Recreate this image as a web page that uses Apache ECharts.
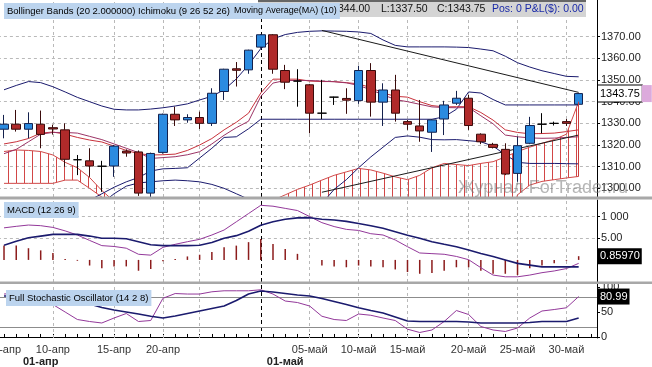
<!DOCTYPE html>
<html><head><meta charset="utf-8">
<script src="https://cdn.jsdelivr.net/npm/echarts@6/dist/echarts.min.js"></script>
<style>html,body{margin:0;padding:0;background:#fff}#c{width:652px;height:367px}</style>
</head><body><div id="c"></div>
<script>
// ---------- data ----------
const categories = ['05-апр','06-апр','07-апр','08-апр','10-апр','11-апр','12-апр','13-апр','14-апр','15-апр','17-апр','18-апр','19-апр','20-апр','21-апр','24-апр','25-апр','26-апр','27-апр','28-апр','29-апр','01-май','02-май','03-май','04-май','05-май','06-май','08-май','09-май','10-май','11-май','12-май','13-май','15-май','16-май','17-май','18-май','19-май','20-май','22-май','23-май','24-май','25-май','26-май','27-май','29-май','30-май','31-май',''];
const labelIdx = [0,4,9,13,25,29,33,38,42,46];
const gridIdx = [4,9,13,16,25,29,33,38,42,46];
const monthSepLabel = '01-май';
const monthLabelIdx = [3,23];
const monthLabels = ['01-апр','01-май'];

const opens  = [1327.3,1329.6,1327.3,1329.6,1328.0,1327.0,1313.2,1312.7,1310.2,1310.3,1317.2,1316.8,1297.8,1316.6,1334.2,1331.6,1332.7,1330.0,1344.7,1355.2,1354.7,1365.2,1370.9,1354.4,1349.5,1347.8,1334.7,1342.1,1341.5,1340.5,1354.4,1339.8,1345.4,1330.8,1328.8,1325.9,1332.0,1339.3,1341.6,1325.0,1320.3,1318.0,1306.9,1320.8,1329.6,1330.0,1330.8,1338.8];
const closes = [1329.6,1327.3,1329.9,1324.9,1327.4,1313.4,1313.2,1310.3,1310.2,1319.5,1316.3,1297.8,1316.1,1334.2,1331.6,1332.7,1330.0,1343.9,1355.0,1354.5,1363.8,1370.9,1355.0,1349.0,1349.5,1334.7,1334.7,1342.1,1340.7,1354.4,1339.8,1345.4,1334.7,1329.6,1326.5,1331.6,1338.5,1341.6,1329.0,1321.5,1318.9,1306.6,1319.7,1329.0,1329.6,1330.0,1330.0,1343.75];
const lows   = [1323.1,1326.2,1323.1,1318.5,1324.8,1310.0,1306.1,1305.3,1298.4,1305.3,1314.6,1296.5,1295.0,1316.0,1328.8,1330.3,1327.4,1328.8,1340.8,1347.0,1352.9,1364.5,1352.9,1345.8,1337.7,1325.4,1331.9,1338.5,1334.4,1339.0,1333.1,1328.8,1330.8,1327.0,1321.5,1316.8,1324.6,1338.5,1327.0,1320.4,1318.4,1306.1,1303.0,1320.4,1325.4,1329.0,1328.8,1337.5];
const highs  = [1333.9,1336.2,1335.1,1335.9,1329.4,1330.0,1315.4,1318.5,1312.7,1320.0,1318.0,1317.5,1316.5,1334.5,1337.7,1334.2,1335.4,1346.2,1355.2,1358.3,1364.0,1371.2,1371.2,1357.0,1355.0,1348.2,1350.1,1342.3,1346.2,1356.6,1357.8,1348.5,1352.4,1331.6,1340.8,1331.9,1340.4,1345.0,1343.1,1325.4,1321.0,1320.8,1323.9,1333.0,1334.7,1330.8,1332.0,1344.0];

const bbUpper = [1345.5,1347.5,1349.3,1348.8,1346.9,1344.5,1342,1340,1338,1336.5,1336.2,1336.2,1336.6,1337.2,1338,1339,1340.8,1342.5,1345.5,1350.5,1357,1364.5,1369,1371,1372,1372.5,1372.7,1372.6,1372.5,1372.2,1371.5,1368.5,1366,1365.3,1365.3,1365.3,1365.3,1365.2,1365,1364.3,1363.5,1361,1358,1356,1354.3,1353,1351.7,1351.5];
const bbLower = [1280,1280,1280,1281,1283,1285,1287,1289,1293,1297.5,1301,1302.5,1303,1303.5,1303.8,1303.5,1303,1301.8,1300,1297.5,1295,1292,1289,1287,1286,1288,1293,1299.5,1304,1309.5,1314.5,1319,1323.5,1324.2,1323.6,1322.5,1322.4,1322.5,1322,1321.5,1319.5,1315.5,1312,1311.5,1311.5,1311.5,1311.4,1311.3];
const kijun = [1285,1286,1287,1288,1289,1290,1292,1294.5,1297.5,1300.5,1303,1305,1308,1309,1309.2,1309.5,1314,1318.5,1323.5,1323.8,1327.5,1331.9,1331.9,1331.9,1331.9,1331.9,1331.9,1331.9,1331.9,1331.9,1331.9,1331.9,1331.9,1331.9,1331.9,1331.9,1333,1336.5,1344.5,1344,1341,1338.5,1338.5,1338.5,1338.5,1338.5,1338.5,1338.5];
const tenkan = [1320.5,1321.5,1323,1325.5,1326,1325,1323.5,1322.3,1321.4,1319.5,1317.5,1316,1315.4,1315.5,1315.8,1317.5,1320,1323,1327,1330.5,1334.7,1344,1350.4,1350.4,1350.4,1349.5,1349.3,1349.3,1348.8,1348.2,1346.5,1344,1342.5,1342.1,1340,1338.2,1337.6,1337.7,1337.7,1335,1331.5,1327,1325.8,1325.2,1325.3,1325.5,1326.2,1327];
const ma10 = [1316,1318,1321.5,1325,1325.8,1325.8,1325.5,1324,1322.5,1320.5,1318.5,1316.5,1313.8,1314.2,1314.6,1315.5,1316.9,1320.5,1324.5,1328,1331,1342.4,1348.6,1349.8,1349.8,1349.8,1349.5,1349.2,1348.7,1347.5,1345.5,1343.2,1341,1340,1338.8,1337.6,1337.3,1337.2,1337.3,1333.5,1329.8,1324.6,1323.8,1323.3,1323.1,1323.2,1323.5,1323.8];
const cloudTop = [1317,1317.7,1317.5,1317,1315.4,1312,1309.5,1305,1299,1294,1290,1288,1287,1286,1285,1285,1285,1286,1287,1288,1290,1292,1294.5,1297,1299.5,1301.5,1303.8,1306,1307.6,1309.2,1308.5,1307,1305.3,1304,1306,1309.5,1311.5,1311,1310.5,1311.5,1312.3,1314.5,1317,1319,1320.8,1322.5,1325,1340];
const cloudBottom = [1302.3,1302.3,1302.3,1302.3,1302.3,1303.8,1303.8,1300,1296,1292,1280,1280,1280,1280,1280,1280,1280,1280,1280,1280,1280,1280,1280,1280,1280,1280,1280,1280,1280,1280,1280,1280,1280,1280,1280,1280,1280,1280,1280,1280,1280,1280,1297,1301.5,1303.2,1304,1304.8,1305.5];
const trendDown = [['06-май',1372.9],['31-май',1344.3]];
const trendUp = [['06-май',1298.2],['31-май',1324.6]];

const macdLine = [7.4,7.75,8.05,7.9,7.5,6.7,5.75,4.5,3.3,3.1,2.7,1.3,1.1,2.9,3.6,4.2,4.75,5.75,6.9,8.8,10.7,12.6,12.4,11.9,11.4,10.0,8.6,7.7,7.05,6.8,6.05,5.75,4.6,3.05,1.6,1.45,1.3,0.8,0.05,-1.8,-3.5,-3.9,-3.9,-3.5,-2.95,-2.55,-2.0,-0.8];
const signalLine = [3.4,4.3,5.1,5.5,5.9,5.9,5.9,5.5,5.0,5.0,4.9,4.2,3.5,3.3,3.3,3.3,3.4,4.0,5.0,5.6,6.6,8.0,8.8,9.4,9.7,9.75,9.4,9.2,8.9,8.4,7.9,7.3,6.5,5.7,5.0,4.2,3.6,3.05,2.3,1.5,0.8,0.0,-0.8,-1.2,-1.6,-1.6,-1.6,-1.6];
const macdHist = [3.3,3.3,2.7,2.2,1.6,0.2,-0.2,-1.3,-1.9,-1.5,-1.5,-2.5,-2.1,-0.3,0.2,0.8,1.2,1.8,2.9,3.3,4.1,4.8,3.7,2.5,1.4,0.0,-1.3,-1.5,-1.7,-1.3,-1.5,-1.7,-2.2,-2.8,-3.2,-3.0,-2.5,-1.7,-1.7,-2.5,-3.2,-3.2,-3.5,-1.9,-1.3,-0.8,-0.2,0.8597];
const stochK = [86,88,88,82,65,50,35,31,28,38,47,31,33,77.5,87,86,86,90.5,92.5,92.5,92.5,94.5,86,72,69,62,41.5,35,33,46,43.5,38,33,15.6,9,14,31,53,45,21,14,11,18,38,52,55,58.5,80.99];
const stochD = [82,82,82,81,80,78,73,66,59,54,50,46,41.5,38,42,47,52,57,62,73,86,92,90,87,84,82,77,71,65,58.5,53,48,40,32,31,31,31,31,30,28,28,28,28,29,31,31,31,38];

const priceTicks = [1300,1310,1320,1330,1340,1350,1360,1370];
const macdTicks = [5,10];
const macdTickText = {5:'5.00',10:'1 000'};
const stochTicks = [0,50,100];
const stochLevels = [80,20];

// ---------- build ----------
const chart = echarts.init(document.getElementById('c'), null, {renderer:'canvas'});
const FONT = '"Liberation Sans", Arial, sans-serif';
const NAVY = '#1b1b6e';
const HIDDEN = 'rgba(0,0,0,0)';
const candleData = opens.map((o,i)=>[o, closes[i], lows[i], highs[i]]);
const cloudDiff = cloudTop.map((t,i)=>t - cloudBottom[i]);
const last = closes.length - 1;

const pat = document.createElement('canvas');
pat.width = 8; pat.height = 4;
const pctx = pat.getContext('2d');
pctx.fillStyle = 'rgba(205,50,50,0.9)';
pctx.fillRect(0,0,1,4);

const gridLineStyle = {color:'#b9b9b9', type:[3,3], width:1};
const vLines = gridIdx.map(i=>({xAxis: categories[i], lineStyle: gridLineStyle}));
vLines.push({xAxis: monthSepLabel, lineStyle:{color:'#000', type:[4,3], width:1}});
const mk = (extra) => ({symbol:['none','none'], silent:true, animation:false, z:1, label:{show:false}, data: vLines.concat(extra||[])});

const hiddenX = (gi) => ({type:'category', gridIndex:gi, data:categories, boundaryGap:true,
  axisLine:{show:false}, axisTick:{show:false}, axisLabel:{show:false}, splitLine:{show:false}});

const ln = (data, color, width, xi, z) => ({type:'line', data, xAxisIndex:xi, yAxisIndex:xi,
  symbol:'none', showSymbol:false, lineStyle:{color, width}, itemStyle:{color}, z:z||2, silent:true, animation:false});

const valueBox = (val, txt) => ({yAxis: val, lineStyle:{color:HIDDEN, width:1, type:'solid'},
  label:{show:true, position:'end', distance:1, formatter: txt, backgroundColor:'#000', color:'#fff',
    padding:[3,2,2,2], fontSize:11, fontFamily:FONT}});

const gridBase = {left:-2.1, right:55, containLabel:false, outerBoundsMode:'none'};

const option = {
  animation:false,
  backgroundColor:'#fff',
  textStyle:{fontFamily:FONT},
  grid:[
    Object.assign({top:0, height:197}, gridBase),
    Object.assign({top:200, height:82}, gridBase),
    Object.assign({top:284, height:54}, gridBase)
  ],
  xAxis:[
    hiddenX(0), hiddenX(1),
    {type:'category', gridIndex:2, data:categories, boundaryGap:true,
     axisLine:{show:true, lineStyle:{color:'#000', width:1}},
     axisTick:{show:true, alignWithLabel:true, interval:0, inside:true, length:3, lineStyle:{color:'#000'}},
     axisLabel:{show:true, interval:(i)=>labelIdx.includes(i), align:'center',
       fontSize:11, color:'#333', margin:6},
     splitLine:{show:false}},
    {type:'category', gridIndex:2, data:categories, boundaryGap:true, position:'bottom', offset:12,
     axisLine:{show:false}, axisTick:{show:false}, splitLine:{show:false},
     axisLabel:{show:true, interval:(i)=>monthLabelIdx.includes(i), align:'center',
       formatter:(v,i)=>{const k=monthLabelIdx.indexOf(i); return k>=0?monthLabels[k]:'';},
       fontSize:11, fontWeight:'bold', color:'#222', margin:6}}
  ],
  yAxis:[
    {type:'value', gridIndex:0, position:'right', min:1296.0, max:1386.95,
     axisLine:{show:true, lineStyle:{color:'#000'}},
     axisTick:{show:true, length:3, customValues:priceTicks, lineStyle:{color:'#000'}},
     axisLabel:{customValues:priceTicks, formatter:(v)=>v.toFixed(2), fontSize:11, color:'#222', margin:4},
     splitLine:{show:true, lineStyle:gridLineStyle}},
    {type:'value', gridIndex:1, position:'right', min:-5.1, max:13.83,
     axisLine:{show:true, lineStyle:{color:'#000'}},
     axisTick:{show:true, length:3, customValues:macdTicks, lineStyle:{color:'#000'}},
     axisLabel:{customValues:macdTicks, formatter:(v)=>macdTickText[v]||'', fontSize:11, color:'#222', margin:4},
     splitLine:{show:true, lineStyle:gridLineStyle}},
    {type:'value', gridIndex:2, position:'right', min:-2.04, max:106.1,
     axisLine:{show:true, lineStyle:{color:'#000'}},
     axisTick:{show:true, length:3, customValues:stochTicks, lineStyle:{color:'#000'}},
     axisLabel:{customValues:stochTicks, formatter:(v)=>String(v), fontSize:11, color:'#222', margin:4},
     splitLine:{show:false}}
  ],
  series:[
    {type:'line', data:cloudBottom, stack:'cloud', xAxisIndex:0, yAxisIndex:0, symbol:'none',
     lineStyle:{color:'#d04848', width:1}, z:1, silent:true, animation:false, markLine: mk()},
    {type:'line', data:cloudDiff, stack:'cloud', xAxisIndex:0, yAxisIndex:0, symbol:'none',
     lineStyle:{color:'#d04848', width:1}, areaStyle:{color:{image:pat, repeat:'repeat'}, opacity:1},
     z:1, silent:true, animation:false,
     markLine:{symbol:['none','none'], silent:true, animation:false, label:{show:false},
       lineStyle:{color:'#c83c3c', width:1, type:'solid'},
       data:[[{coord:[categories[last], cloudBottom[last]]},{coord:[categories[last], cloudTop[last]]}]]}},
    ln(bbUpper, NAVY, 1, 0),
    ln(bbLower, NAVY, 1, 0),
    ln(kijun, NAVY, 1, 0),
    ln(tenkan, '#c8323c', 1, 0),
    ln(ma10, '#9c3466', 1, 0),
    ln(trendDown, '#1a1a1a', 1, 0),
    ln(trendUp, '#1a1a1a', 1, 0),
    {type:'candlestick', xAxisIndex:0, yAxisIndex:0, data:candleData, barWidth:9, z:3, silent:true, animation:false,
     itemStyle:{color:'#2b8be0', color0:'#b02a2a', borderColor:'#14214d', borderColor0:'#3a0b0b', borderColorDoji:'#000', borderWidth:1},
     markLine:{symbol:['none','none'], silent:true, animation:false, z:10,
       data:[{yAxis:closes[last], lineStyle:{color:HIDDEN, width:1, type:'solid'},
         label:{show:true, position:'end', distance:1, formatter:'{a|'+closes[last].toFixed(2)+'}{b| }',
           rich:{a:{backgroundColor:'#fff', borderColor:'#000', borderWidth:1, padding:[3,2,2,2], fontSize:11, color:'#000', fontFamily:FONT},
                 b:{backgroundColor:'#dcaadc', width:10, height:17}}}}]}},
    {type:'bar', xAxisIndex:1, yAxisIndex:1, data:macdHist, barWidth:1.5, itemStyle:{color:'#8c1c1c'}, z:2, silent:true, animation:false,
     markLine: mk([valueBox(macdHist[last], macdHist[last].toFixed(5))])},
    ln(macdLine, '#93389a', 1, 1),
    ln(signalLine, NAVY, 1.6, 1),
    Object.assign(ln(stochK, '#93389a', 1, 2), {
      markLine: mk(stochLevels.map(v=>({yAxis:v, lineStyle:{color:'#8c8c8c', type:'solid', width:1}})).concat([valueBox(stochK[last], stochK[last].toFixed(2))]))}),
    ln(stochD, NAVY, 1.6, 2)
  ],
  graphic:[
    {type:'rect', shape:{x:0,y:196.5,width:652,height:3}, style:{fill:'#a8a8a8'}, z:90},
    {type:'rect', shape:{x:0,y:281.5,width:652,height:2.5}, style:{fill:'#a8a8a8'}, z:90},
    {type:'text', x:458, y:188, style:{text:'Журнал ForTrader.ru', font:'18px '+FONT, fill:'rgba(120,120,120,0.55)', verticalAlign:'middle'}, z:95},
    {type:'rect', shape:{x:258,y:0,width:328,height:17}, style:{fill:'#d4d4d4'}, z:100},
    {type:'rect', shape:{x:258,y:0,width:328,height:2}, style:{fill:'#666'}, z:100},
    {type:'text', x:338, y:9, style:{text:'344.00', font:'10.5px '+FONT, fill:'#111', verticalAlign:'middle'}, z:101},
    {type:'text', x:381, y:9, style:{text:'L:1337.50', font:'10.5px '+FONT, fill:'#111', verticalAlign:'middle'}, z:101},
    {type:'text', x:437, y:9, style:{text:'C:1343.75', font:'10.5px '+FONT, fill:'#111', verticalAlign:'middle'}, z:101},
    {type:'text', x:492, y:9, style:{text:'Pos: 0 P&L($): 0.00', font:'10.5px '+FONT, fill:'#1a2aa8', verticalAlign:'middle'}, z:101},
    {type:'text', x:4, y:3, style:{text:'Bollinger Bands (20 2.000000)', font:'9.5px '+FONT, fill:'#000', backgroundColor:'#bcd4ee', padding:[3,3,3,3]}, z:102},
    {type:'text', x:135, y:3, style:{text:'Ichimoku (9 26 52 26)', font:'9.5px '+FONT, fill:'#000', backgroundColor:'#bcd4ee', padding:[3,3,3,3]}, z:102},
    {type:'text', x:231, y:3, style:{text:'Moving Average(MA) (10)', font:'9px '+FONT, fill:'#000', backgroundColor:'#bcd4ee', padding:[3,3,4,3]}, z:102},
    {type:'text', x:4, y:202, style:{text:'MACD (12 26 9)', font:'9.5px '+FONT, fill:'#000', backgroundColor:'#bcd4ee', padding:[3,3,3,3]}, z:102},
    {type:'text', x:6, y:290, style:{text:'Full Stochastic Oscillator (14 2 8)', font:'9.5px '+FONT, fill:'#000', backgroundColor:'#bcd4ee', padding:[3,3,3,3]}, z:102}
  ]
};
chart.setOption(option);
</script>
</body></html>
